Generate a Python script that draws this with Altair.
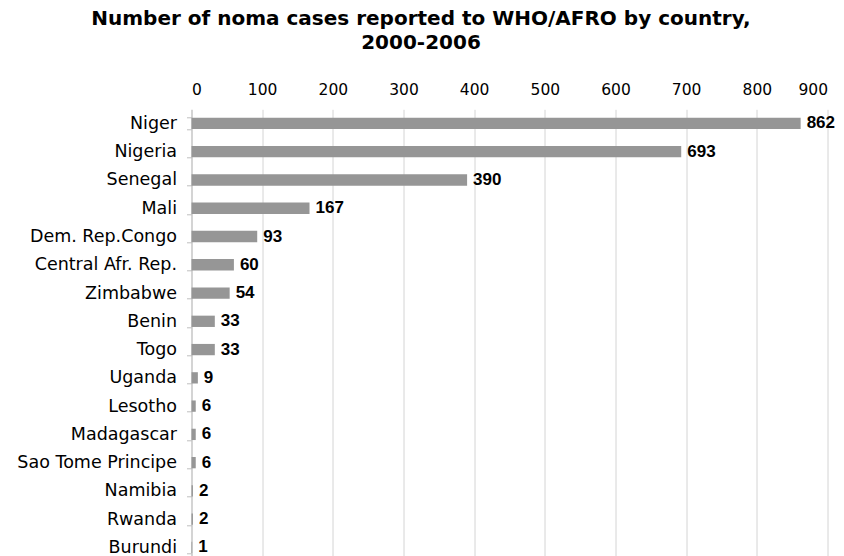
import altair as alt
import pandas as pd

countries = ["Niger", "Nigeria", "Senegal", "Mali", "Dem. Rep.Congo",
             "Central Afr. Rep.", "Zimbabwe", "Benin", "Togo", "Uganda",
             "Lesotho", "Madagascar", "Sao Tome Principe", "Namibia",
             "Rwanda", "Burundi"]
cases = [862, 693, 390, 167, 93, 60, 54, 33, 33, 9, 6, 6, 6, 2, 2, 1]
x_ticks = [0, 100, 200, 300, 400, 500, 600, 700, 800, 900]
title_lines = ["Number of noma cases reported to WHO/AFRO by country,",
               "2000-2006"]

df = pd.DataFrame({"country": countries, "cases": cases})

y_enc = alt.Y(
    "country:N",
    sort=countries,
    scale=alt.Scale(range=[0, 452.3], paddingInner=0.6, paddingOuter=0.3),
    axis=alt.Axis(
        title=None,
        labelFont="DejaVu Sans",
        labelFontSize=17.5,
        labelColor="#000000",
        labelPadding=10,
        labelLimit=300,
        tickSize=5,
        tickColor="#bfbfbf",
        domainColor="#bfbfbf",
        tickBand="extent",
        grid=False,
    ),
)

x_enc = alt.X(
    "cases:Q",
    scale=alt.Scale(domain=[0, 900], nice=False),
    axis=alt.Axis(
        orient="top",
        values=x_ticks,
        title=None,
        domain=False,
        ticks=False,
        labelFont="DejaVu Sans",
        labelFontSize=15.5,
        labelColor="#000000",
        labelPadding=12,
        grid=True,
        gridColor="#d4d4d4",
    ),
)

base = alt.Chart(df)

bars = base.mark_bar(color="#969696").encode(x=x_enc, y=y_enc)

labels = base.mark_text(
    align="left",
    baseline="middle",
    dx=6,
    font="Liberation Sans",
    fontWeight="bold",
    fontSize=17,
    color="#000000",
).encode(
    x=alt.X("cases:Q"),
    y=alt.Y("country:N", sort=countries),
    text=alt.Text("cases:Q"),
)

chart = (
    (bars + labels)
    .properties(
        width=636,
        height=446.7,
        title=alt.TitleParams(
            text=title_lines,
            font="DejaVu Sans",
            fontSize=20,
            fontWeight="bold",
            color="#000000",
            anchor="start",
            align="center",
            dx=229.5,
            dy=-25,
            lineHeight=24,
            frame="group",
        ),
        padding={"left": 191.5, "top": 109.3, "right": 16.5, "bottom": 0},
        autosize="none",
    )
    .configure_view(stroke=None)
)

chart.save("out.html", embed_options={"renderer": "svg", "actions": False})
